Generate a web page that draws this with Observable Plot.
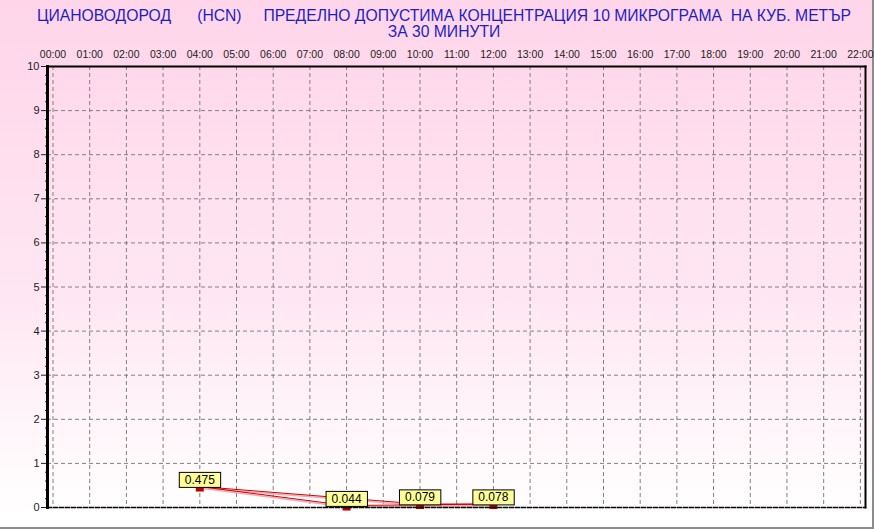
<!DOCTYPE html>
<html>
<head>
<meta charset="utf-8">
<script src="https://cdn.jsdelivr.net/npm/d3@7"></script>
<script src="https://cdn.jsdelivr.net/npm/@observablehq/plot@0.6"></script>
<style>
  html, body { margin: 0; padding: 0; background: #fff; }
  #page {
    position: relative;
    width: 874px;
    height: 529px;
    background: linear-gradient(to bottom, #ffd5e9 0%, #ffe6f2 55%, #ffffff 97%);
    font-family: Arial, "Liberation Sans", sans-serif;
    overflow: hidden;
  }
  #page::after {
    content: "";
    position: absolute;
    left: 0; top: 0;
    width: 872px; height: 527px;
    border-right: 2px solid #8c8c8c;
    border-bottom: 2px solid #8c8c8c;
    pointer-events: none;
  }
  #title {
    height: 36px;
    padding-top: 8px;
    color: #1e1ec4;
    font-size: 15.7px;
    line-height: 16px;
    text-align: center;
    white-space: pre;
    padding-left: 14px;
  }
  #chart { position: relative; z-index: 1; }
  #chart svg { display: block; background: transparent; overflow: visible; }
</style>
</head>
<body>
<div id="page">
  <div id="title">ЦИАНОВОДОРОД      (HCN)     ПРЕДЕЛНО ДОПУСТИМА КОНЦЕНТРАЦИЯ 10 МИКРОГРАМА  НА КУБ. МЕТЪР
ЗА 30 МИНУТИ</div>
  <div id="chart"></div>
</div>
<script>
const HOURS = [0, 1, 2, 3, 4, 5, 6, 7, 8, 9, 10, 11, 12, 13, 14, 15, 16, 17, 18, 19, 20, 21, 22];
const HOUR_LABELS = ["00:00", "01:00", "02:00", "03:00", "04:00", "05:00", "06:00", "07:00",
  "08:00", "09:00", "10:00", "11:00", "12:00", "13:00", "14:00", "15:00", "16:00", "17:00",
  "18:00", "19:00", "20:00", "21:00", "22:00"];
const Y_TICKS = [0, 1, 2, 3, 4, 5, 6, 7, 8, 9, 10];

// measured points (hour of day, µg/m³)
const POINT_HOURS = [4, 8, 10, 12];
const POINT_VALUES = [0.475, 0.044, 0.079, 0.078];
const POINT_LABELS = ["0.475", "0.044", "0.079", "0.078"];

// the original draws two traces through the points
const UPPER_TRACE = [0, 2, 3];
const LOWER_TRACE = [0, 1, 3];

const RED = "#cc0000";
const GRID = "#808080";

const px = i => POINT_HOURS[i];
const py = i => POINT_VALUES[i];
const minorTicks = d3.range(0, 10.01, 0.2).filter(v => Math.abs(v - Math.round(v)) > 1e-6);

// flat little rectangle used as the point marker
const barSymbol = {
  draw(ctx) {
    ctx.moveTo(-4, -2);
    ctx.lineTo(4, -2);
    ctx.lineTo(4, 2);
    ctx.lineTo(-4, 2);
    ctx.closePath();
  }
};

const idx = POINT_HOURS.map((_, i) => i);

const plot = Plot.plot({
  width: 872,
  height: 485,
  marginTop: 22,
  marginBottom: 22,
  marginLeft: 47,
  marginRight: 7,
  style: { fontFamily: 'Arial, "Liberation Sans", sans-serif', fontSize: 11, color: "#222", background: "transparent", overflow: "visible" },
  x: { domain: [-0.15, 22.14] },
  y: { domain: [0, 10] },
  marks: [
    Plot.gridX(HOURS, { stroke: GRID, strokeOpacity: 1, strokeDasharray: "4 3" }),
    Plot.gridY(Y_TICKS.slice(1, -1), { stroke: GRID, strokeOpacity: 1, strokeDasharray: "4 3" }),
    Plot.axisX({ anchor: "top", ticks: HOURS, tickFormat: d => HOUR_LABELS[d], tickSize: 0, tickPadding: 9, label: null, fill: "#222", fontSize: 10.5 }),
    Plot.axisY({ ticks: Y_TICKS, tickSize: 6, tickPadding: 2, label: null, fill: "#222" }),
    Plot.axisY({ ticks: minorTicks, tickSize: 2, text: null, label: null }),
    Plot.line(UPPER_TRACE, { x: px, y: py, stroke: "#f2a8b4", strokeWidth: 1.5, dy: 1.5 }),
    Plot.line(LOWER_TRACE, { x: px, y: py, stroke: "#f2a8b4", strokeWidth: 1.5, dy: 1.5 }),
    Plot.line(UPPER_TRACE, { x: px, y: py, stroke: RED, strokeWidth: 1 }),
    Plot.line(LOWER_TRACE, { x: px, y: py, stroke: RED, strokeWidth: 1 }),
    Plot.dot(idx, { x: px, y: py, symbol: barSymbol, fill: "#c00000", stroke: "none", dy: 3 }),
    Plot.frame({ anchor: "left", stroke: "black", strokeWidth: 3 }),
    Plot.frame({ anchor: "right", stroke: "black", strokeWidth: 2 }),
    Plot.frame({ anchor: "top", stroke: "black", strokeWidth: 2, strokeDasharray: "4 2" }),
    Plot.frame({ anchor: "bottom", stroke: "black", strokeWidth: 1.5, strokeDasharray: "4 2" }),
    Plot.text(idx, { x: px, y: py, text: i => POINT_LABELS[i], dy: -6.5, fontSize: 12, fill: "black", className: "vlabel" })
  ]
});

document.getElementById("chart").append(plot);

// yellow boxes behind the value labels (same transform as their text)
d3.select(plot).selectAll(".vlabel text").each(function () {
  const b = this.getBBox();
  d3.select(this.parentNode).insert("rect", () => this)
    .attr("transform", this.getAttribute("transform"))
    .attr("x", b.x - 5.5).attr("y", b.y - 0.5)
    .attr("width", b.width + 11).attr("height", b.height + 1)
    .attr("fill", "#ffff99").attr("stroke", "black").attr("stroke-width", 1);
});
</script>
</body>
</html>
